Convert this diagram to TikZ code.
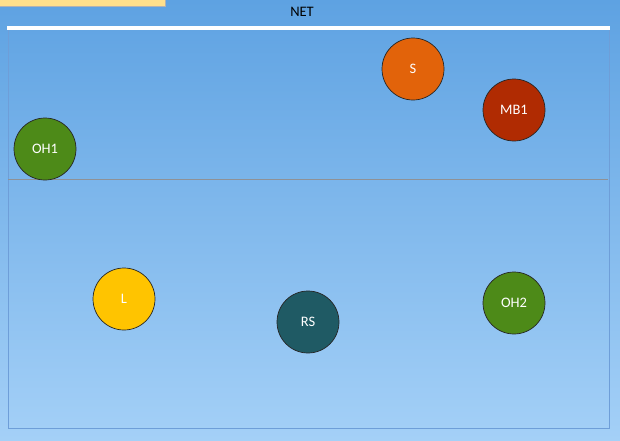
\documentclass[tikz,border=0pt]{standalone}
\usepackage{fontspec}
\setmainfont{Carlito}
\definecolor{bgtop}{HTML}{5EA2E2}
\definecolor{bgbot}{HTML}{A4D0F7}
\definecolor{courtline}{HTML}{6E9ED8}
\definecolor{midline}{HTML}{8F9196}
\definecolor{notebox}{HTML}{FFE08C}
\definecolor{cS}{HTML}{E2630A}
\definecolor{cMB}{HTML}{B02B02}
\definecolor{cOH}{HTML}{4D8A18}
\definecolor{cL}{HTML}{FFC400}
\definecolor{cRS}{HTML}{1F5A64}
\tikzset{
  player/.style={circle, draw=black!85, line width=0.7pt, minimum size=62pt, inner sep=0pt,
    text=white, font=\fontsize{14.5}{16}\selectfont},
}
\begin{document}
\begin{tikzpicture}[x=1pt,y=-1pt]
\useasboundingbox (0,0) rectangle (620,440);
\shade[top color=bgtop, bottom color=bgbot] (0,0) rectangle (620,440);
% note box (cut off at top)
\fill[notebox] (0,0) rectangle (165,6.5);
\draw[black!30, line width=0.4pt] (165,0) -- (165,6.5) -- (0,6.5);
% court
\draw[courtline, line width=0.9pt] (8,28) rectangle (609,428);
\draw[midline, line width=1.1pt] (8,179.5) -- (608,179.5);
\draw[white, line width=3.5pt] (7,28) -- (610,28);
\node[font=\fontsize{14.5}{16}\selectfont, text=black] (net) at (302,12) {NET};
% players
\node[player, fill=cS] (S) at (413,69) {S};
\node[player, fill=cMB] (MB1) at (514,110) {MB1};
\node[player, fill=cOH] (OH1) at (45,149) {OH1};
\node[player, fill=cL] (L) at (124,299) {L};
\node[player, fill=cRS] (RS) at (308,322) {RS};
\node[player, fill=cOH] (OH2) at (514,303) {OH2};
\end{tikzpicture}
\end{document}
